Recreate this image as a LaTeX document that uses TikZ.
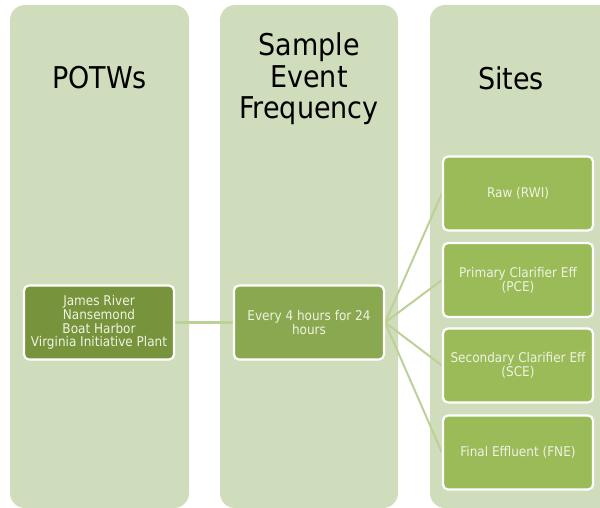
\documentclass[tikz,border=0pt]{standalone}
\usepackage{fontspec}
\setmainfont[FakeStretch=0.9]{DejaVu Sans}
\pgfdeclarelayer{back}
\pgfdeclarelayer{mid}
\pgfsetlayers{back,mid,main}
\begin{document}
\begin{tikzpicture}[x=1pt,y=-1pt,
  column/.style={fill=colbg, rounded corners=15pt},
  title/.style={font=\fontsize{30}{31.5}\selectfont, align=center, text=black},
  boxbase/.style={draw=white, line width=2.2pt, rounded corners=5pt, minimum width=150pt, minimum height=74pt, align=center, text=txtlight, font=\fontsize{13.4}{13.8}\selectfont, inner sep=2pt},
  potwbox/.style={boxbase, fill=potwgreen},
  freqbox/.style={boxbase, fill=freqgreen},
  sitebox/.style={boxbase, fill=sitegreen},
  link/.style={draw=linkgreen, line width=2.6pt},
  fan/.style={draw=linkgreen, line width=2pt}]
\definecolor{colbg}{HTML}{D0DDBC}
\definecolor{potwgreen}{HTML}{77933C}
\definecolor{freqgreen}{HTML}{8AA84F}
\definecolor{sitegreen}{HTML}{9BBB59}
\definecolor{linkgreen}{HTML}{BCD196}
\definecolor{txtlight}{HTML}{EEF3E2}
\useasboundingbox (0,0) rectangle (600,508);
\clip (0,0) rectangle (600,508);
\node[title] (t1) at (99.5,78) {POTWs};
\node[title] (t2) at (309,79) {Sample\\Event\\Frequency};
\node[title] (t3) at (511,78) {Sites};
\node[potwbox] (p) at (99,322.5) {James River\\Nansemond\\Boat Harbor\\Virginia Initiative Plant};
\node[freqbox] (f) at (309,322.5) {Every 4 hours for 24\\hours};
\node[sitebox] (s1) at (518,193.5) {Raw (RWI)};
\node[sitebox] (s2) at (518,280) {Primary Clarifier Eff\\(PCE)};
\node[sitebox] (s3) at (518,365.5) {Secondary Clarifier Eff\\(SCE)};
\node[sitebox] (s4) at (518,452.5) {Final Effluent (FNE)};
\begin{pgfonlayer}{back}
\fill[column] (10,5) rectangle (189,508);
\fill[column] (220,5) rectangle (398,508);
\fill[column] (430,5) rectangle (640,508);
\end{pgfonlayer}
\begin{pgfonlayer}{mid}
\draw[link] (p.east) -- (f.west);
\foreach \s in {s1,s2,s3,s4} \draw[fan] (f.east) -- (\s.west);
\end{pgfonlayer}
\end{tikzpicture}
\end{document}
